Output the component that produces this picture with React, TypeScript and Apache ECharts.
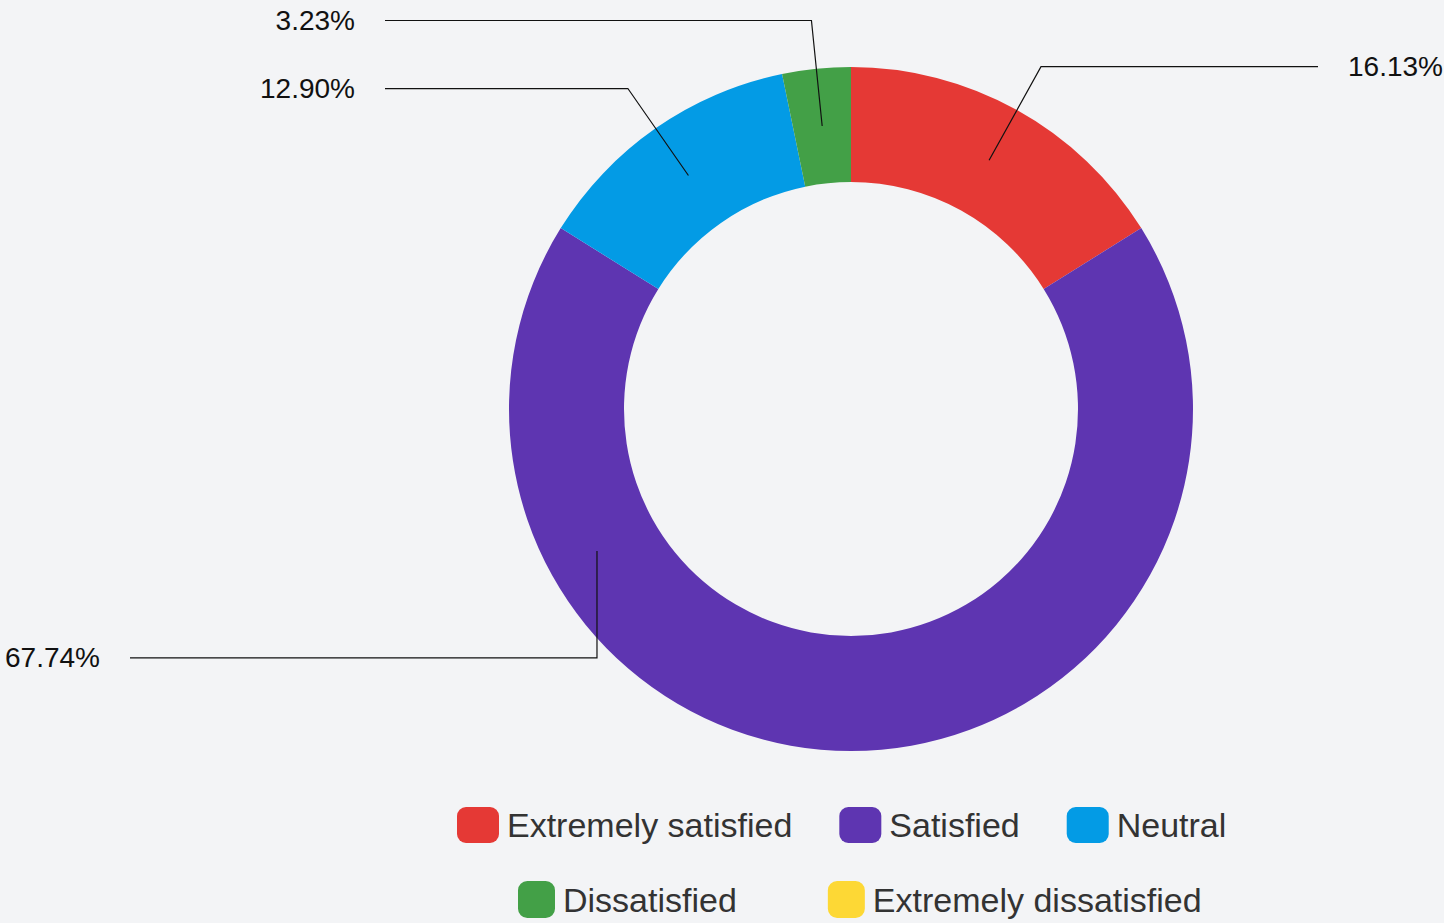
import React, { useEffect, useRef } from "react";
import * as echarts from "echarts";

const categories = [
  "Extremely satisfied",
  "Satisfied",
  "Neutral",
  "Dissatisfied",
  "Extremely dissatisfied",
];
const percentages = [16.13, 67.74, 12.9, 3.23, 0];
const colors = ["#e53935", "#5e35b1", "#039be5", "#43a047", "#fdd835"];
const legendRow1 = categories.slice(0, 3);
const legendRow2 = categories.slice(3);

// layout constants
const CX = 851;
const CY = 409;
const R_IN = 227;
const R_OUT = 342;
const R_MID = (R_IN + R_OUT) / 2;
const FONT = "'Liberation Sans', Arial, sans-serif";

// label line geometry per slice (radial length, end x of the horizontal part)
const labelGeom: Record<number, { len: number; endX: number; angle?: number; r?: number; vertical?: boolean }> = {
  0: { len: 107, endX: 1318 },
  1: { len: 107, endX: 130, angle: 240.8, r: 291, vertical: true },
  2: { len: 106, endX: 385 },
  3: { len: 106, endX: 385 },
};
const TEXT_GAP = 30;

function midAngle(i: number) {
  const total = percentages.reduce((a, b) => a + b, 0);
  let before = 0;
  for (let j = 0; j < i; j++) before += percentages[j];
  return ((before + percentages[i] / 2) / total) * 360;
}

export default function App() {
  const ref = useRef<HTMLDivElement>(null);
  useEffect(() => {
    if (!ref.current) return;
    const chart = echarts.init(ref.current, undefined, { renderer: "svg" });
    const data = categories.map((name, i) => ({
      name,
      value: percentages[i],
      itemStyle: { color: colors[i] },
    }));
    const labelData = categories.map((name, i) => ({
      name,
      value: percentages[i],
      itemStyle: { color: "rgba(0,0,0,0)" },
      label: { show: percentages[i] > 0 },
      labelLine: { show: percentages[i] > 0 },
    }));
    const legendBase = {
      orient: "horizontal",
      icon: "roundRect",
      padding: 0,
      textStyle: { fontSize: 34, color: "#333333", fontFamily: FONT, padding: [0, 0, 0, 3] },
      selectedMode: false,
    };
    chart.setOption({
      animation: false,
      backgroundColor: "#f3f4f6",
      legend: [
        { ...legendBase, data: legendRow1, left: 457, top: 807, itemGap: 47, itemWidth: 42, itemHeight: 36 },
        { ...legendBase, data: legendRow2, left: 518, top: 881, itemGap: 91, itemWidth: 37, itemHeight: 37 },
      ],
      series: [
        {
          type: "pie",
          z: 2,
          center: [CX, CY],
          radius: [R_IN, R_OUT],
          startAngle: 90,
          clockwise: true,
          silent: true,
          label: { show: false },
          labelLine: { show: false },
          emphasis: { disabled: true },
          data,
        },
        {
          type: "pie",
          z: 5,
          center: [CX, CY],
          radius: [0, R_MID],
          startAngle: 90,
          clockwise: true,
          silent: true,
          emphasis: { disabled: true },
          legendHoverLink: false,
          label: {
            show: true,
            position: "outside",
            fontSize: 28,
            color: "#111111",
            fontFamily: FONT,
            formatter: (p: any) => Number(p.value).toFixed(2) + "%",
          },
          labelLine: { show: true, lineStyle: { color: "#111111", width: 1.2 } },
          labelLayout: (params: any) => {
            const i = params.dataIndex;
            const g = labelGeom[i];
            if (!g) return {};
            const ang = ((g.angle ?? midAngle(i)) * Math.PI) / 180;
            const r = g.r ?? R_MID;
            const p0 = [CX + r * Math.sin(ang), CY - r * Math.cos(ang)];
            const p1 = g.vertical
              ? [p0[0], p0[1] + g.len]
              : [p0[0] + g.len * Math.sin(ang), p0[1] - g.len * Math.cos(ang)];
            const p2 = [g.endX, p1[1]];
            const isRight = g.endX > p1[0];
            return {
              x: isRight ? g.endX + TEXT_GAP : g.endX - TEXT_GAP,
              y: p1[1],
              align: isRight ? "left" : "right",
              verticalAlign: "middle",
              labelLinePoints: [p0, p1, p2],
            };
          },
          data: labelData,
        },
      ],
    });
    return () => chart.dispose();
  }, []);
  return (
    <div
      ref={ref}
      style={{ position: "fixed", left: 0, top: 0, width: 1444, height: 923 }}
    />
  );
}
